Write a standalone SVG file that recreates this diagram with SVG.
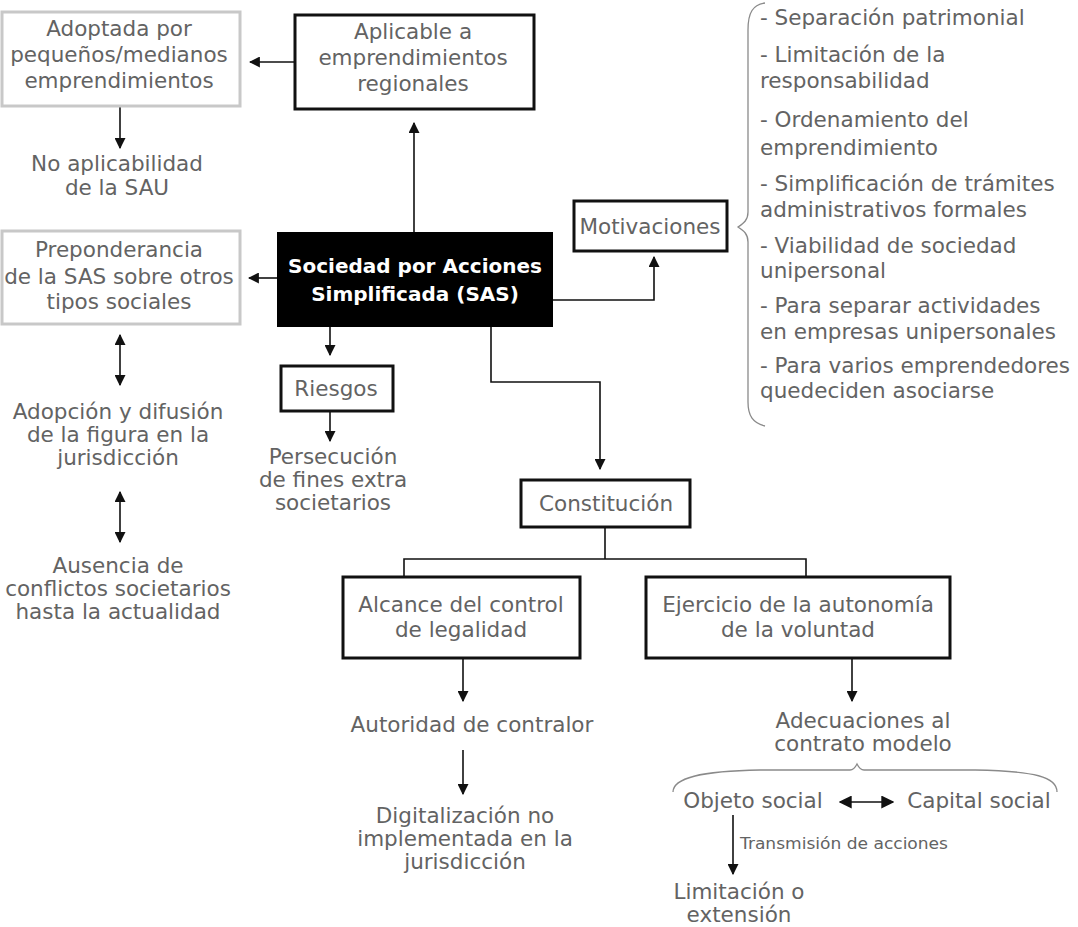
<svg xmlns="http://www.w3.org/2000/svg" width="1078" height="927" viewBox="0 0 1078 927">
<style>
.t{font-family:"DejaVu Sans","Liberation Sans",sans-serif;font-size:21.5px;fill:#636363;text-anchor:middle}
.l{font-family:"DejaVu Sans","Liberation Sans",sans-serif;font-size:21.5px;fill:#636363}
.s{font-family:"DejaVu Sans","Liberation Sans",sans-serif;font-size:16px;fill:#636363}
.b{font-family:"DejaVu Sans","Liberation Sans",sans-serif;font-size:20px;fill:#fff;font-weight:bold;text-anchor:middle}
.bx{fill:#fff;stroke:#111;stroke-width:3}
.gx{fill:#fff;stroke:#c8c8c8;stroke-width:3}
.c{fill:none;stroke:#111;stroke-width:1.6}
.br{fill:none;stroke:#8a8a8a;stroke-width:1.3}
</style>
<defs>
<marker id="a" viewBox="0 0 10 10" refX="9" refY="5" markerWidth="13" markerHeight="13" markerUnits="userSpaceOnUse" orient="auto-start-reverse"><path d="M0,0L10,5L0,10z" fill="#111"/></marker>
<marker id="a2" viewBox="0 0 10 10" refX="9" refY="5" markerWidth="11" markerHeight="11" markerUnits="userSpaceOnUse" orient="auto-start-reverse"><path d="M0,0L10,5L0,10z" fill="#111"/></marker>
</defs>
<rect width="1078" height="927" fill="#fff"/>
<g id="connectors">
<path class="c" d="M294,62H250" marker-end="url(#a2)"/>
<path class="c" d="M120,106V148" marker-end="url(#a2)"/>
<path class="c" d="M414,232V123" marker-end="url(#a2)"/>
<path class="c" d="M277,278H249" marker-end="url(#a2)"/>
<path class="c" d="M553,300H654V257" marker-end="url(#a2)"/>
<path class="c" d="M330,327V355" marker-end="url(#a2)"/>
<path class="c" d="M330,411V441" marker-end="url(#a2)"/>
<path class="c" d="M120,335V385" marker-start="url(#a2)" marker-end="url(#a2)"/>
<path class="c" d="M120,492V542" marker-start="url(#a2)" marker-end="url(#a2)"/>
<path class="c" d="M491,327V382H600V469" marker-end="url(#a2)"/>
<path class="c" d="M605,527V559M404,577V559H806V577"/>
<path class="c" d="M463,658V701" marker-end="url(#a2)"/>
<path class="c" d="M463,750V794" marker-end="url(#a2)"/>
<path class="c" d="M852,658V701" marker-end="url(#a2)"/>
<path class="c" d="M840,802H893" stroke-width="3.2" marker-start="url(#a)" marker-end="url(#a)"/>
<path class="c" d="M733,815V874" marker-end="url(#a2)"/>
<text class="s" x="740" y="849" textLength="208" lengthAdjust="spacingAndGlyphs">Transmisión de acciones</text>
</g>
<g id="adoptada"><rect class="gx" x="2" y="12" width="238" height="94"/>
<text class="t" x="119" y="36">Adoptada por</text><text class="t" x="119" y="62">pequeños/medianos</text><text class="t" x="119" y="88">emprendimientos</text></g>
<g id="noaplic"><text class="t" x="117" y="171">No aplicabilidad</text><text class="t" x="117" y="195">de la SAU</text></g>
<g id="aplicable"><rect class="bx" x="295" y="15" width="239" height="94"/>
<text class="t" x="413" y="39">Aplicable a</text><text class="t" x="413" y="65">emprendimientos</text><text class="t" x="413" y="91">regionales</text></g>
<g id="preponderancia"><rect class="gx" x="2" y="231" width="238" height="93"/>
<text class="t" x="119" y="257">Preponderancia</text><text class="t" x="119" y="284">de la SAS sobre otros</text><text class="t" x="119" y="309">tipos sociales</text></g>
<g id="sas"><rect x="277" y="232" width="276" height="95" fill="#000"/>
<text class="b" x="415" y="273">Sociedad por Acciones</text><text class="b" x="415" y="301">Simplificada (SAS)</text></g>
<g id="motivaciones"><rect class="bx" x="574" y="201" width="153" height="50"/>
<text class="t" x="650" y="234">Motivaciones</text></g>
<g id="lista">
<path class="br" d="M765,3C753,5 748,12 748,30V212C748,220 744,223 738,227C744,231 748,234 748,242V402C748,416 753,423 765,426"/>
<text class="l" x="760" y="25">- Separación patrimonial</text>
<text class="l" x="760" y="62">- Limitación de la</text><text class="l" x="760" y="88">responsabilidad</text>
<text class="l" x="760" y="127">- Ordenamiento del</text><text class="l" x="760" y="155">emprendimiento</text>
<text class="l" x="760" y="191">- Simplificación de trámites</text><text class="l" x="760" y="217">administrativos formales</text>
<text class="l" x="760" y="253">- Viabilidad de sociedad</text><text class="l" x="760" y="278">unipersonal</text>
<text class="l" x="760" y="313">- Para separar actividades</text><text class="l" x="760" y="339">en empresas unipersonales</text>
<text class="l" x="760" y="373">- Para varios emprendedores</text><text class="l" x="760" y="398">quedeciden asociarse</text>
</g>
<g id="riesgos"><rect class="bx" x="281" y="366" width="112" height="45"/>
<text class="t" x="336" y="396">Riesgos</text></g>
<g id="persecucion"><text class="t" x="333" y="464">Persecución</text><text class="t" x="333" y="487">de fines extra</text><text class="t" x="333" y="510">societarios</text></g>
<g id="adopcion"><text class="t" x="118" y="419">Adopción y difusión</text><text class="t" x="118" y="442">de la figura en la</text><text class="t" x="118" y="465">jurisdicción</text></g>
<g id="ausencia"><text class="t" x="118" y="573">Ausencia de</text><text class="t" x="118" y="596">conflictos societarios</text><text class="t" x="118" y="619">hasta la actualidad</text></g>
<g id="constitucion"><rect class="bx" x="521" y="480" width="169" height="47"/>
<text class="t" x="606" y="511">Constitución</text></g>
<g id="alcance"><rect class="bx" x="343" y="577" width="237" height="81"/>
<text class="t" x="461" y="612">Alcance del control</text><text class="t" x="461" y="637">de legalidad</text></g>
<g id="ejercicio"><rect class="bx" x="646" y="577" width="304" height="81"/>
<text class="t" x="798" y="612">Ejercicio de la autonomía</text><text class="t" x="798" y="637">de la voluntad</text></g>
<g id="autoridad"><text class="t" x="472" y="732">Autoridad de contralor</text></g>
<g id="digitalizacion"><text class="t" x="465" y="823">Digitalización no</text><text class="t" x="465" y="846">implementada en la</text><text class="t" x="465" y="869">jurisdicción</text></g>
<g id="adecuaciones"><text class="t" x="863" y="728">Adecuaciones al</text><text class="t" x="863" y="751">contrato modelo</text></g>
<path class="br" d="M673,792C673,778 700,771 760,770H850C853,770 855,768 857,764C859,768 861,770 864,770H975C1035,771 1057,777 1057,792"/>
<g id="objeto"><text class="t" x="753" y="808">Objeto social</text></g>
<g id="capital"><text class="t" x="979" y="808">Capital social</text></g>
<g id="limitacion"><text class="t" x="739" y="899">Limitación o</text><text class="t" x="739" y="922">extensión</text></g>
</svg>
